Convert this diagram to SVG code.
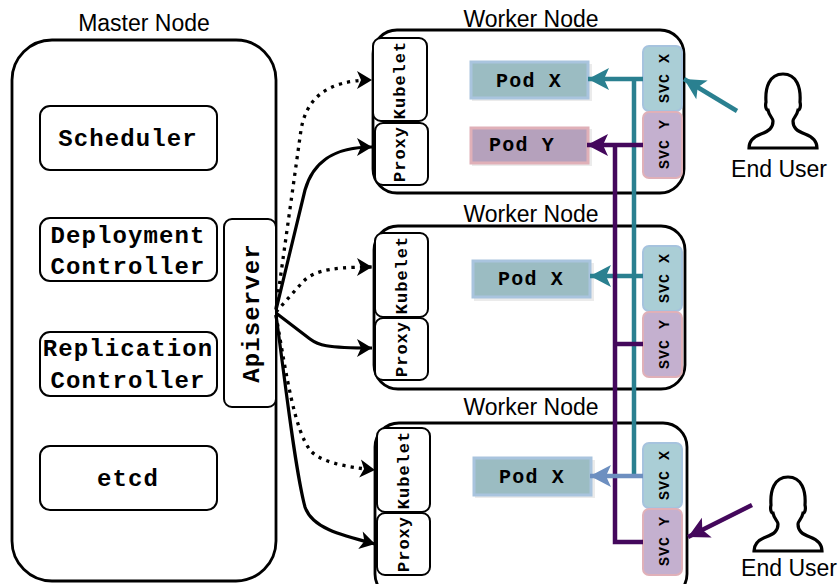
<svg xmlns="http://www.w3.org/2000/svg" width="838" height="584" viewBox="0 0 838 584">
<style>
.box{fill:#fff;stroke:#000;stroke-width:2.8}
.thin{fill:#fff;stroke:#000;stroke-width:2}
.lbl{font-family:"Liberation Sans",Arial,sans-serif;font-size:23px;fill:#000;text-anchor:middle}
.mono{font-family:"Liberation Mono","Courier New",monospace;font-weight:bold;fill:#000;text-anchor:middle}
.m22{font-size:24px;letter-spacing:1.1px}
.m18{font-size:20px;letter-spacing:1.2px}
.m15{font-size:17px;letter-spacing:1px}
.m13{font-size:15px;letter-spacing:1px}
.podx{fill:#9bbcc2;stroke:#a9c4de;stroke-width:3}
.pody{fill:#b5a1bc;stroke:#e0b0b8;stroke-width:3}
.shadow{fill:#ccc;opacity:.4}
.svcx{fill:#aaced6;stroke:#a6c3de;stroke-width:2}
.svcy{fill:#c4b0cf;stroke:#e0b0b8;stroke-width:2}
.k{stroke:#000;fill:none;stroke-width:3.2}
.dot{stroke-width:3.3;stroke-dasharray:3.2 5.2}
.t{stroke:#2a8090;fill:none;stroke-width:4.5}
.p{stroke:#44085c;fill:none;stroke-width:4.5}
.b{stroke:#6d8fc0;fill:none;stroke-width:4.5}
.user{fill:#fff;stroke:#000;stroke-width:3.2}
</style>
<defs>
<marker id="ak" markerUnits="userSpaceOnUse" markerWidth="18" markerHeight="20" refX="16" refY="10" orient="auto"><path d="M1 1L16 10L1 19L5 10Z" fill="#000"/></marker>
<marker id="at" markerUnits="userSpaceOnUse" markerWidth="24" markerHeight="24" refX="22" refY="12" orient="auto"><path d="M1 1L22 12L1 23L6 12Z" fill="#2a8090"/></marker>
<marker id="ap" markerUnits="userSpaceOnUse" markerWidth="24" markerHeight="24" refX="22" refY="12" orient="auto"><path d="M1 1L22 12L1 23L6 12Z" fill="#44085c"/></marker>
<marker id="ab" markerUnits="userSpaceOnUse" markerWidth="24" markerHeight="24" refX="22" refY="12" orient="auto"><path d="M1 1L22 12L1 23L6 12Z" fill="#6d8fc0"/></marker>
<path id="person" d="M-34 0C-34-7-30-11-22-14C-14-17-10-20-10-27C-10-30-14-32-15-38C-17-38-18-42-17-46C-18-60-14-74 0-74C14-74 18-60 17-46C18-42 17-38 15-38C14-32 10-30 10-27C10-20 14-17 22-14C30-11 34-7 34 0Z"/>
</defs>
<g id="master"><rect class="box" x="12" y="40" width="264" height="541" rx="40" ry="40"/><text class="lbl" x="144" y="31">Master Node</text></g>
<g id="scheduler"><rect class="thin" x="40" y="106" width="177" height="64" rx="10"/><text class="mono m22" x="128" y="146">Scheduler</text></g>
<g id="deployment"><rect class="thin" x="40" y="218" width="177" height="63" rx="10"/><text class="mono m22" x="128" y="243">Deployment</text><text class="mono m22" x="128" y="274">Controller</text></g>
<g id="replication"><rect class="thin" x="40" y="332" width="177" height="64" rx="10"/><text class="mono m22" x="128" y="356">Replication</text><text class="mono m22" x="128" y="388">Controller</text></g>
<g id="etcd"><rect class="thin" x="40" y="446" width="177" height="64" rx="10"/><text class="mono m22" x="128" y="486">etcd</text></g>
<g id="apiserver"><rect class="thin" x="224" y="219" width="52" height="188" rx="8"/><text class="mono m22" transform="translate(259 313) rotate(-90)">Apiserver</text></g>

<g id="worker1"><rect class="box" x="373" y="30" width="311" height="163" rx="24"/><text class="lbl" x="531" y="27">Worker Node</text></g>
<g id="kubelet1"><rect class="thin" x="373" y="38" width="54" height="83" rx="8"/><text class="mono m15" transform="translate(405 80) rotate(-90)">Kubelet</text></g>
<g id="proxy1"><rect class="thin" x="375" y="123" width="53" height="62" rx="8"/><text class="mono m15" transform="translate(405 154) rotate(-90)">Proxy</text></g>
<g id="podx1"><rect class="shadow" x="472" y="64" width="120" height="37"/><rect class="podx" x="471" y="62" width="117" height="36"/><text class="mono m18" x="529" y="87">Pod X</text></g>
<g id="pody1"><rect class="shadow" x="472" y="129" width="120" height="37"/><rect class="pody" x="471" y="128" width="117" height="35"/><text class="mono m18" x="522" y="151">Pod Y</text></g>
<g id="svcx1"><rect class="svcx" x="643" y="46" width="39" height="65" rx="6"/><text class="mono m13" transform="translate(669 78) rotate(-90)">SVC X</text></g>
<g id="svcy1"><rect class="svcy" x="643" y="112" width="39" height="66" rx="6"/><text class="mono m13" transform="translate(669 144) rotate(-90)">SVC Y</text></g>

<g id="worker2"><rect class="box" x="374" y="226" width="311" height="163" rx="24"/><text class="lbl" x="531" y="222">Worker Node</text></g>
<g id="kubelet2"><rect class="thin" x="375" y="233" width="53" height="84" rx="8"/><text class="mono m15" transform="translate(407 275) rotate(-90)">Kubelet</text></g>
<g id="proxy2"><rect class="thin" x="375" y="318" width="53" height="62" rx="8"/><text class="mono m15" transform="translate(407 349) rotate(-90)">Proxy</text></g>
<g id="podx2"><rect class="shadow" x="474" y="263" width="120" height="38"/><rect class="podx" x="473" y="261" width="117" height="36"/><text class="mono m18" x="531" y="285">Pod X</text></g>
<g id="svcx2"><rect class="svcx" x="643" y="246" width="39" height="65" rx="6"/><text class="mono m13" transform="translate(669 278) rotate(-90)">SVC X</text></g>
<g id="svcy2"><rect class="svcy" x="643" y="312" width="39" height="65" rx="6"/><text class="mono m13" transform="translate(669 344) rotate(-90)">SVC Y</text></g>

<g id="worker3"><rect class="box" x="375" y="423" width="312" height="175" rx="24"/><text class="lbl" x="531" y="415">Worker Node</text></g>
<g id="kubelet3"><rect class="thin" x="377" y="428" width="53" height="84" rx="8"/><text class="mono m15" transform="translate(409 470) rotate(-90)">Kubelet</text></g>
<g id="proxy3"><rect class="thin" x="377" y="513" width="53" height="62" rx="8"/><text class="mono m15" transform="translate(409 544) rotate(-90)">Proxy</text></g>
<g id="podx3"><rect class="shadow" x="475" y="460" width="120" height="38"/><rect class="podx" x="474" y="458" width="117" height="37"/><text class="mono m18" x="532" y="483">Pod X</text></g>
<g id="svcx3"><rect class="svcx" x="643" y="443" width="39" height="65" rx="6"/><text class="mono m13" transform="translate(669 475) rotate(-90)">SVC X</text></g>
<g id="svcy3"><rect class="svcy" x="643" y="509" width="39" height="66" rx="6"/><text class="mono m13" transform="translate(669 541) rotate(-90)">SVC Y</text></g>

<g id="user1"><use href="#person" class="user" x="783" y="148"/><text class="lbl" x="779" y="177">End User</text></g>
<g id="user2"><use href="#person" class="user" x="788" y="551"/><text class="lbl" x="789" y="576">End User</text></g>

<g id="connectors">
<path class="k dot" d="M276 309L301 130C306 100 325 80 372 80" marker-end="url(#ak)"/>
<path class="k" d="M276 310L305 190C312 165 330 147 372 147" marker-end="url(#ak)"/>
<path class="k dot" d="M276 312L300 285C310 273 322 267 372 267" marker-end="url(#ak)"/>
<path class="k" d="M276 313L310 339C318 345 325 348 372 348" marker-end="url(#ak)"/>
<path class="k dot" d="M276 315C287 380 295 430 310 450C320 462 345 467 375 470" marker-end="url(#ak)"/>
<path class="k" d="M276 315C285 380 295 470 305 507C312 528 340 535 375 544" marker-end="url(#ak)"/>
<path class="t" d="M643 79H588" marker-end="url(#at)"/>
<path class="t" d="M634 79V474"/>
<path class="t" d="M643 276H590" marker-end="url(#at)"/>
<path class="p" d="M643 145H587" marker-end="url(#ap)"/>
<path class="p" d="M615 145V542H643"/>
<path class="p" d="M615 344H643"/>
<path class="b" d="M643 476H590" marker-end="url(#ab)"/>
<path class="t" d="M737 111L684 79" marker-end="url(#at)"/>
<path class="p" d="M752 505L688 537" marker-end="url(#ap)"/>
</g>
</svg>
